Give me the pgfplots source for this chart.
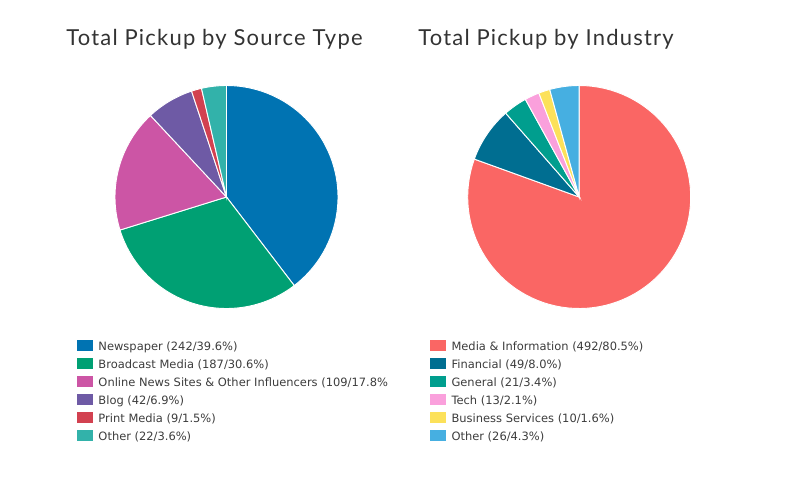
\documentclass[border=0pt]{standalone}
\usepackage{pgfplots}
\pgfplotsset{compat=1.18}
\usepgfplotslibrary{polar}
\usepackage{fontspec}
\setmainfont{DejaVu Sans}
\newfontfamily\titlefont[LetterSpace=5.5]{Lato}
\definecolor{titlegray}{RGB}{51,51,51}
\definecolor{textgray}{RGB}{60,60,60}
\definecolor{sNews}{RGB}{0,115,178}
\definecolor{sBroad}{RGB}{0,160,115}
\definecolor{sOnline}{RGB}{204,85,165}
\definecolor{sBlog}{RGB}{110,90,165}
\definecolor{sPrint}{RGB}{210,65,80}
\definecolor{sOther}{RGB}{50,178,170}
\definecolor{iMedia}{RGB}{250,102,100}
\definecolor{iFin}{RGB}{0,110,145}
\definecolor{iGen}{RGB}{0,158,142}
\definecolor{iTech}{RGB}{250,160,220}
\definecolor{iBus}{RGB}{252,225,90}
\definecolor{iOther}{RGB}{70,175,225}
\pgfplotsset{
  piestyle/.style={
    scale only axis, width=167.25pt, height=167.25pt,
    hide axis, clip=false,
    xmin=0, xmax=360, ymin=0, ymax=1,
    legend cell align=left,
    legend image code/.code={
      \fill[##1,draw=none] (0pt,-3.4pt) rectangle (12pt,4.9pt);
      \path (15.8pt,0pt);
    },
    legend style={anchor=north west, draw=none, fill=none,
      inner sep=0pt, outer sep=0pt, row sep=3.5pt,
      font=\fontsize{8.6}{10}\selectfont, text=textgray,
      nodes={inner sep=0pt, text height=8pt, text depth=2pt}},
  },
  slice/.style={fill=#1, draw=white, line width=0.7pt, samples=90},
}
\begin{document}
\begin{tikzpicture}[x=1pt,y=1pt]
\path[use as bounding box] (0,0) rectangle (600,360);
\node[anchor=base west, font=\titlefont\fontsize{16.5}{18}\selectfont, text=titlegray, inner sep=0pt]
  at (49.5,326.25) {Total Pickup by Source Type};
\node[anchor=base west, font=\titlefont\fontsize{16.5}{18}\selectfont, text=titlegray, inner sep=0pt]
  at (313.5,326.25) {Total Pickup by Industry};

% Source type: 242, 187, 109, 42, 9, 22 (total 611), clockwise from 12 o'clock
\begin{polaraxis}[piestyle, at={(169.875pt,212.25pt)}, anchor=origin,
  legend style={at={(axis description cs:-0.1706,-0.139)}}]
\addplot[slice=sNews, domain=90:-52.586] {1} -- (0,0) -- cycle;
\addlegendentry{Newspaper (242/39.6\%)}
\addplot[slice=sBroad, domain=-52.586:-162.766] {1} -- (0,0) -- cycle;
\addlegendentry{Broadcast Media (187/30.6\%)}
\addplot[slice=sOnline, domain=-162.766:-226.988] {1} -- (0,0) -- cycle;
\addlegendentry{Online News Sites \& Other Influencers (109/17.8\%}
\addplot[slice=sBlog, domain=-226.988:-251.735] {1} -- (0,0) -- cycle;
\addlegendentry{Blog (42/6.9\%)}
\addplot[slice=sPrint, domain=-251.735:-257.038] {1} -- (0,0) -- cycle;
\addlegendentry{Print Media (9/1.5\%)}
\addplot[slice=sOther, domain=-257.038:-270] {1} -- (0,0) -- cycle;
\addlegendentry{Other (22/3.6\%)}
\end{polaraxis}

% Industry: 492, 49, 21, 13, 10, 26 (total 611)
\begin{polaraxis}[piestyle, at={(434.4pt,212.25pt)}, anchor=origin,
  legend style={at={(axis description cs:-0.169,-0.139)}}]
\addplot[slice=iMedia, domain=90:-199.885] {1} -- (0,0) -- cycle;
\addlegendentry{Media \& Information (492/80.5\%)}
\addplot[slice=iFin, domain=-199.885:-228.756] {1} -- (0,0) -- cycle;
\addlegendentry{Financial (49/8.0\%)}
\addplot[slice=iGen, domain=-228.756:-241.129] {1} -- (0,0) -- cycle;
\addlegendentry{General (21/3.4\%)}
\addplot[slice=iTech, domain=-241.129:-248.788] {1} -- (0,0) -- cycle;
\addlegendentry{Tech (13/2.1\%)}
\addplot[slice=iBus, domain=-248.788:-254.680] {1} -- (0,0) -- cycle;
\addlegendentry{Business Services (10/1.6\%)}
\addplot[slice=iOther, domain=-254.680:-270] {1} -- (0,0) -- cycle;
\addlegendentry{Other (26/4.3\%)}
\end{polaraxis}
\end{tikzpicture}
\end{document}
